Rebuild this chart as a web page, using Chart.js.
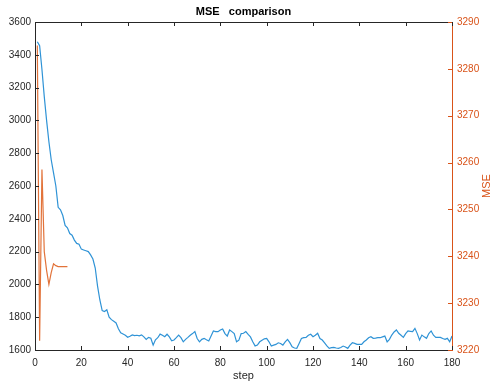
<!DOCTYPE html>
<html>
<head>
<meta charset="utf-8">
<script src="https://cdn.jsdelivr.net/npm/chart.js@4"></script>
<style>
  html, body { margin: 0; padding: 0; background: #fff; }
  canvas { display: block; }
</style>
</head>
<body>
<canvas id="chart" width="493" height="383"></canvas>
<script>
// blue series (left axis), steps 1..180
const blueSteps = Array.from({ length: 180 }, (_, i) => i + 1);
const blueValues = [
  3480, 3455, 3310, 3145, 3000, 2870, 2760, 2680, 2600, 2470,
  2455, 2420, 2360, 2345, 2310, 2300, 2270, 2250, 2245, 2215,
  2210, 2205, 2200, 2180, 2155, 2100, 1990, 1905, 1840, 1835,
  1845, 1800, 1785, 1775, 1765, 1730, 1705, 1698, 1690, 1678,
  1684, 1692, 1688, 1690, 1686, 1692, 1680, 1665, 1677, 1672,
  1630, 1662, 1675, 1697, 1690, 1681, 1696, 1680, 1656, 1661,
  1675, 1691, 1675, 1650, 1665, 1677, 1690, 1700, 1712, 1670,
  1650, 1665, 1671, 1662, 1655, 1685, 1716, 1712, 1712, 1722,
  1728, 1700, 1685, 1722, 1712, 1700, 1650, 1660, 1700, 1702,
  1712, 1695, 1680, 1650, 1625, 1630, 1650, 1660, 1668, 1671,
  1650, 1624, 1630, 1634, 1644, 1640, 1630, 1650, 1665, 1645,
  1620, 1612, 1610, 1640, 1670, 1675, 1677, 1690, 1696, 1681,
  1690, 1702, 1670, 1661, 1644, 1625, 1610, 1614, 1616, 1612,
  1610, 1615, 1624, 1618, 1610, 1630, 1644, 1640, 1634, 1634,
  1634, 1650, 1661, 1675, 1681, 1671, 1672, 1675, 1675, 1680,
  1685, 1650, 1665, 1691, 1710, 1722, 1702, 1690, 1677, 1700,
  1716, 1714, 1712, 1732, 1700, 1661, 1691, 1680, 1671, 1700,
  1716, 1690, 1677, 1677, 1677, 1670, 1665, 1671, 1650, 1685
];

// orange series (right axis), steps 1..14
const orangeSteps = [1, 2, 3, 4, 5, 6, 7, 8, 9, 10, 11, 12, 13, 14];
const orangeValues = [3285, 3222, 3258.5, 3241, 3237, 3234, 3236.5, 3238.4, 3238, 3237.8, 3237.8, 3237.8, 3237.8, 3237.8];

const xTicks = [0, 20, 40, 60, 80, 100, 120, 140, 160, 180];

const BLUE = "#2f93d6";
const ORANGE = "#e2733a";
const AXIS_ORANGE = "#d95319";
const DARK = "#262626";
const FONT = "'Liberation Sans', Arial, Helvetica, sans-serif";

const plain = v => String(v);

// inward tick marks, top frame line and text titles
const matlabAxes = {
  id: "matlabAxes",
  afterDraw(chart) {
    const { ctx, chartArea: a, scales } = chart;
    const len = 4;
    ctx.save();
    ctx.lineWidth = 1;

    ctx.strokeStyle = DARK;
    ctx.beginPath();
    ctx.moveTo(a.left, a.top + 0.5);
    ctx.lineTo(a.right, a.top + 0.5);
    scales.x.ticks.forEach(t => {
      const px = Math.round(scales.x.getPixelForValue(t.value)) + 0.5;
      ctx.moveTo(px, a.bottom);
      ctx.lineTo(px, a.bottom - len);
      ctx.moveTo(px, a.top);
      ctx.lineTo(px, a.top + len);
    });
    scales.y.ticks.forEach(t => {
      const py = Math.round(scales.y.getPixelForValue(t.value)) + 0.5;
      ctx.moveTo(a.left, py);
      ctx.lineTo(a.left + len, py);
    });
    ctx.stroke();

    ctx.strokeStyle = AXIS_ORANGE;
    ctx.beginPath();
    scales.y2.ticks.forEach(t => {
      const py = Math.round(scales.y2.getPixelForValue(t.value)) + 0.5;
      ctx.moveTo(a.right, py);
      ctx.lineTo(a.right - len, py);
    });
    ctx.stroke();

    ctx.fillStyle = "#000";
    ctx.font = "bold 11px " + FONT;
    ctx.textAlign = "center";
    ctx.textBaseline = "middle";
    ctx.fillText("MSE   comparison", (a.left + a.right) / 2, 12);

    ctx.fillStyle = DARK;
    ctx.font = "11px " + FONT;
    ctx.fillText("step", (a.left + a.right) / 2, 376);

    ctx.fillStyle = AXIS_ORANGE;
    ctx.translate(487, (a.top + a.bottom) / 2);
    ctx.rotate(-Math.PI / 2);
    ctx.fillText("MSE", 0, 0);
    ctx.restore();
  }
};

new Chart(document.getElementById("chart"), {
  type: "line",
  data: {
    datasets: [
      {
        label: "blue",
        data: blueSteps.map((s, i) => ({ x: s, y: blueValues[i] })),
        borderColor: BLUE,
        borderWidth: 1.2,
        pointRadius: 0,
        tension: 0,
        yAxisID: "y"
      },
      {
        label: "orange",
        data: orangeSteps.map((s, i) => ({ x: s, y: orangeValues[i] })),
        borderColor: ORANGE,
        borderWidth: 1.2,
        pointRadius: 0,
        tension: 0,
        yAxisID: "y2"
      }
    ]
  },
  options: {
    responsive: false,
    animation: false,
    layout: { padding: { top: 22, left: 0, right: 0, bottom: 0 } },
    plugins: {
      legend: { display: false },
      tooltip: { enabled: false },
      title: { display: false }
    },
    scales: {
      x: {
        type: "linear",
        min: 0,
        max: 180,
        afterBuildTicks: s => { s.ticks = xTicks.map(v => ({ value: v })); },
        afterFit: s => { s.height = 33; },
        grid: { display: false, drawTicks: false },
        border: { display: true, color: DARK, width: 1 },
        ticks: { padding: 7, color: DARK, font: { size: 10, family: FONT }, maxRotation: 0, callback: plain }
      },
      y: {
        position: "left",
        min: 1600,
        max: 3600,
        afterFit: s => { s.width = 35; },
        grid: { display: false, drawTicks: false },
        border: { display: true, color: DARK, width: 1 },
        ticks: { stepSize: 200, padding: 4, color: DARK, font: { size: 10, family: FONT }, callback: plain }
      },
      y2: {
        position: "right",
        min: 3220,
        max: 3290,
        afterFit: s => { s.width = 41; },
        grid: { display: false, drawTicks: false },
        border: { display: true, color: AXIS_ORANGE, width: 1 },
        ticks: { stepSize: 10, padding: 5, color: AXIS_ORANGE, font: { size: 10, family: FONT }, callback: plain }
      }
    }
  },
  plugins: [matlabAxes]
});
</script>
</body>
</html>
